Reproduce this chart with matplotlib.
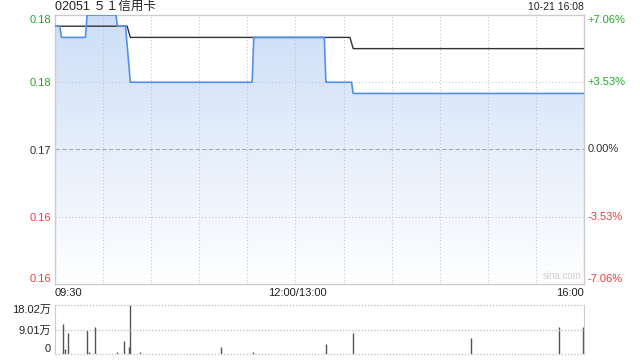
import numpy as np
import matplotlib
matplotlib.use('Agg')
import matplotlib.pyplot as plt

plt.rcParams['font.family'] = ['Liberation Sans', 'Noto Sans CJK SC', 'DejaVu Sans']

# 分時データ (分, 価格)
price_min = [0, 3, 4, 19, 20, 38, 39, 44, 47, 123, 124, 168, 169, 185, 186, 330]
price_val = [0.181, 0.181, 0.180, 0.180, 0.182, 0.182, 0.181, 0.181, 0.176,
             0.176, 0.180, 0.180, 0.176, 0.176, 0.175, 0.175]
avg_min = [0, 45, 47, 184, 186, 330]
avg_val = [0.181, 0.181, 0.180, 0.180, 0.179, 0.179]

# 出来高 (万)
vol_min = [5, 6, 8, 20, 21, 25, 39, 43, 46, 47, 53, 104, 124, 169, 186, 260, 315, 330]
vol_val = [11.1, 1.8, 7.8, 8.8, 0.8, 9.9, 0.7, 4.8, 2.6, 18.02, 0.7, 2.6, 0.7,
           3.7, 7.7, 5.9, 9.9, 9.9]

prev_close = 0.170
price_ticks = [0.158, 0.164, 0.170, 0.176, 0.182]
price_labels = ['0.16', '0.16', '0.17', '0.18', '0.18']
pct_labels = ['-7.06%', '-3.53%', '0.00%', '+3.53%', '+7.06%']
label_colors = ['#f03c3c', '#f03c3c', '#333333', '#22aa22', '#22aa22']
vol_ticks = [0, 9.01, 18.02]
vol_labels = ['0', '9.01万', '18.02万']

title = '02051 ５１信用卡'
stamp = '10-21 16:08'

grid_c = '#c8c8c8'
fig = plt.figure(figsize=(6.4, 3.6), dpi=100)
ax = fig.add_axes([55/640, 1-284/360, 529/640, 269/360])
axv = fig.add_axes([55/640, 1-354/360, 529/640, 49/360])

ax.set_xlim(0, 330)
ax.set_ylim(price_ticks[0], price_ticks[-1])

# グラデーション塗りつぶし
poly = ax.fill_between(price_min, price_val, price_ticks[0], facecolor='none', edgecolor='none')
grad = np.linspace(0, 1, 256).reshape(-1, 1)
top = np.array([0.80, 0.87, 0.97])
bot = np.array([1.0, 1.0, 1.0])
img = top[None, None, :] * (1 - grad[:, :, None]) + bot[None, None, :] * grad[:, :, None]
im = ax.imshow(img, extent=[0, 330, price_ticks[0], price_ticks[-1]], aspect='auto',
               origin='upper', zorder=1)
path = poly.get_paths()[0]
im.set_clip_path(path, transform=ax.transData)

ax.plot(price_min, price_val, color='#5590e8', lw=1.2, zorder=4)
ax.plot(avg_min, avg_val, color='#333333', lw=1.0, zorder=3)

for t in range(30, 330, 30):
    ax.axvline(t, color=grid_c, lw=0.8, ls=(0, (1, 2)), zorder=2)
for y in price_ticks[1:-1]:
    ls = (0, (4, 2)) if y == prev_close else (0, (1, 2))
    ax.axhline(y, color=grid_c if y != prev_close else '#aaaaaa', lw=0.8, ls=ls, zorder=2)

ax.set_xticks([])
ax.set_yticks(price_ticks)
ax.set_yticklabels(price_labels, fontsize=8)
ax.tick_params(axis='y', length=0, pad=3)
for i, lab in enumerate(ax.get_yticklabels()):
    lab.set_color(label_colors[i])
    if i == 0:
        lab.set_va('bottom')
    elif i == len(price_ticks) - 1:
        lab.set_va('top')
for i, (y, s) in enumerate(zip(price_ticks, pct_labels)):
    va = 'bottom' if i == 0 else ('top' if i == len(price_ticks) - 1 else 'center')
    ax.text(1.007, y, s, transform=ax.get_yaxis_transform(), color=label_colors[i],
            fontsize=8, va=va, ha='left')
for sp in ax.spines.values():
    sp.set_color('#cccccc')
    sp.set_linewidth(1)

ax.text(0.995, 0.012, 'sina.com', transform=ax.transAxes, color='#d0d0d0', fontsize=7,
        ha='right', va='bottom')

# 時刻ラベル
fig.text(55/640, 1-293/360, '09:30', fontsize=8, ha='left', va='center', color='#222222')
fig.text(297/640, 1-293/360, '12:00/13:00', fontsize=8, ha='center', va='center', color='#222222')
fig.text(584/640, 1-293/360, '16:00', fontsize=8, ha='right', va='center', color='#222222')

fig.text(55/640, 1-7/360, title, fontsize=9, ha='left', va='center', color='#222222')
fig.text(584/640, 1-7/360, stamp, fontsize=7.5, ha='right', va='center', color='#222222')

# 出来高
axv.set_xlim(0, 330.5)
axv.set_ylim(0, 18.02)
axv.vlines(vol_min, 0, vol_val, color='#555555', lw=1)
for y in vol_ticks:
    axv.axhline(y, color='#bbbbbb', lw=0.9, ls=(0, (1, 1.5)), clip_on=False)
axv.set_xticks([])
axv.set_yticks(vol_ticks)
axv.set_yticklabels(vol_labels, fontsize=8, color='#222222')
axv.tick_params(axis='y', length=0, pad=3)
vlabs = axv.get_yticklabels()
vlabs[0].set_va('bottom')
vlabs[-1].set_va('top')
axv.spines['top'].set_visible(False)
axv.spines['bottom'].set_visible(False)
axv.spines['left'].set_color('#cccccc')
axv.spines['right'].set_color('#cccccc')

fig.savefig('out.png', dpi=100)
